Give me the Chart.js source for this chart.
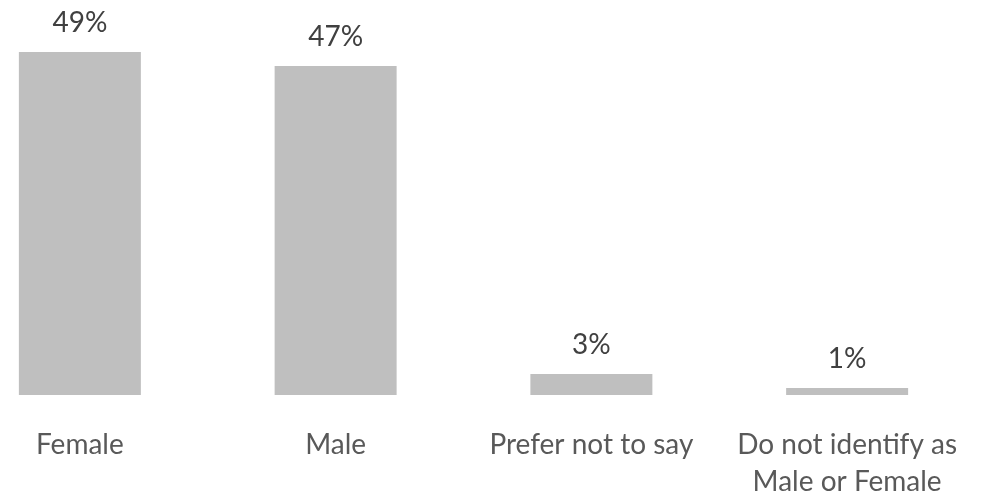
<!DOCTYPE html>
<html>
<head>
<meta charset="utf-8">
<script src="https://cdn.jsdelivr.net/npm/chart.js@4/dist/chart.umd.min.js"></script>
<style>
  html, body { margin: 0; padding: 0; background: #ffffff; overflow: hidden; }
  #wrap { position: absolute; left: -48px; top: 0; width: 1040px; height: 499px; }
</style>
</head>
<body>
<div id="wrap"><canvas id="c"></canvas></div>
<script>
const categories = [
  'Female',
  'Male',
  'Prefer not to say',
  ['Do not identify as', 'Male or Female']
];
const values = [49, 47, 3, 1];
const valueLabels = ['49%', '47%', '3%', '1%'];

const FONT = 'Lato, "Open Sans", sans-serif';

const valueLabelPlugin = {
  id: 'valueLabels',
  afterDatasetsDraw(chart) {
    const ctx = chart.ctx;
    const meta = chart.getDatasetMeta(0);
    ctx.save();
    ctx.font = '28px ' + FONT;
    ctx.fillStyle = '#404040';
    ctx.textAlign = 'center';
    ctx.textBaseline = 'alphabetic';
    meta.data.forEach((bar, i) => {
      ctx.fillText(valueLabels[i], bar.x, bar.y - 20);
    });
    ctx.restore();
  }
};

new Chart(document.getElementById('c'), {
  type: 'bar',
  data: {
    labels: categories,
    datasets: [{
      data: values,
      backgroundColor: '#bfbfbf',
      borderWidth: 0,
      categoryPercentage: 1,
      barPercentage: 0.477
    }]
  },
  options: {
    responsive: true,
    maintainAspectRatio: false,
    animation: false,
    layout: { padding: { top: 45, right: 17, left: 0, bottom: 0 } },
    plugins: { legend: { display: false }, tooltip: { enabled: false } },
    scales: {
      x: {
        grid: { display: false, drawTicks: false },
        border: { display: false },
        ticks: {
          color: '#595959',
          font: { family: FONT, size: 28, lineHeight: 1.3 },
          padding: 32,
          maxRotation: 0,
          autoSkip: false
        },
        afterFit(scale) { scale.height = 104; }
      },
      y: {
        display: false,
        min: 0,
        max: 50
      }
    }
  },
  plugins: [valueLabelPlugin]
});
</script>
</body>
</html>
